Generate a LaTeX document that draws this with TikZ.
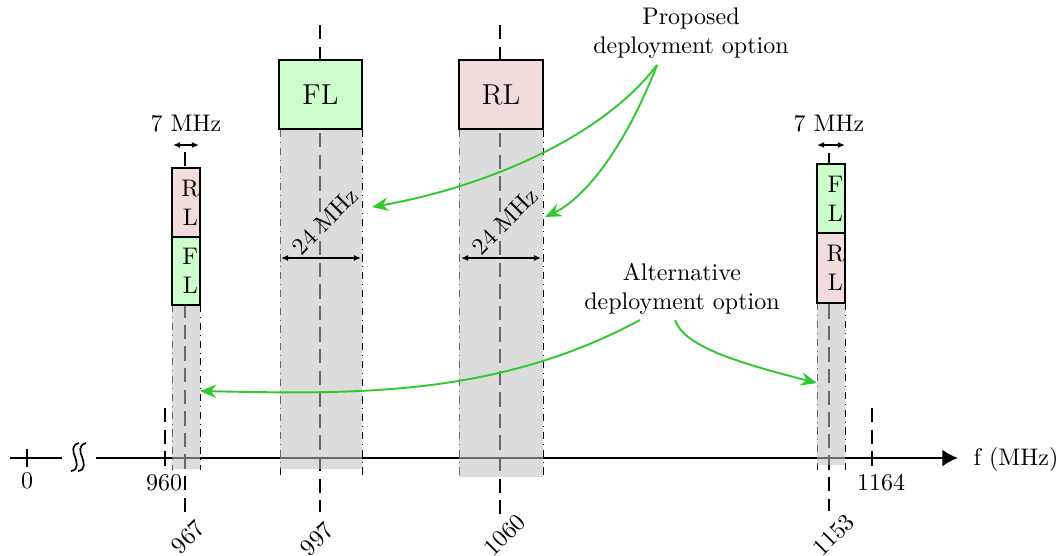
\documentclass[tikz,border=0pt]{standalone}
\usetikzlibrary{arrows.meta,fit}
\definecolor{flgreen}{RGB}{204,255,204}
\definecolor{rlpink}{RGB}{240,220,219}
\definecolor{ptgreen}{RGB}{50,200,50}
\begin{document}
\begin{tikzpicture}[x=0.4167pt,y=-0.4167pt,
  axisline/.style={line width=0.8pt},
  centerline/.style={line width=0.6pt, dash pattern=on 6pt off 3pt},
  bandedge/.style={line width=0.4pt, dash pattern=on 3pt off 2pt on 0.4pt off 2pt},
  bandfill/.style={fill=black!25, fill opacity=0.55},
  boxfl/.style={draw, line width=0.8pt, fill=flgreen, inner sep=0pt},
  boxrl/.style={draw, line width=0.8pt, fill=rlpink, inner sep=0pt},
  spanarrow/.style={line width=0.6pt, {Latex[length=3pt,width=2.6pt]}-{Latex[length=3pt,width=2.6pt]}},
  pointer/.style={draw=ptgreen, line width=0.8pt, -{Stealth[length=6.8pt,width=5.6pt]}},
  freq/.style={rotate=45, inner sep=1pt},
  note/.style={align=center}]
\useasboundingbox (0,0) rectangle (1062,555);

% frequency axis with a break near the origin
\coordinate (a0) at (10,458);
\coordinate (a1) at (62,458);
\coordinate (a2) at (96,458);
\coordinate (a3) at (958,458);
\draw[axisline] (a0) -- (a1);
\draw[axisline, -{Latex[length=6.5pt,width=7pt]}] (a2) -- (a3);
\node (funit) at (1016,459) {f (MHz)};
\foreach \x in {75,82}
  \draw[line width=0.7pt] (\x+4,443) .. controls (\x-4,445) and (\x-2,452) .. (\x,457)
                          .. controls (\x+2,462) and (\x+4,470) .. (\x-4,471);

% origin tick and band limits
\draw[line width=0.6pt] (27,449) -- (27,467);
\node (l0) at (27,481) {0};
\draw[centerline] (165,408) -- (165,466);
\node (l960) at (164,483) {960};
\draw[centerline] (872,408) -- (872,466);
\node (l1164) at (881,483) {1164};

% carrier centre lines
\draw[centerline] (185,152) -- (185,515);
\draw[centerline] (320,25) -- (320,512);
\draw[centerline] (500,25) -- (500,514);
\draw[centerline] (829,153) -- (829,511);

% channel edges
\foreach \x in {172,200} \draw[bandedge] (\x,305) -- (\x,470);
\foreach \x in {280,362} \draw[bandedge] (\x,130) -- (\x,475);
\foreach \x in {459,543} \draw[bandedge] (\x,130) -- (\x,477);
\foreach \x in {817,845} \draw[bandedge] (\x,303) -- (\x,470);

% occupied bandwidth
\fill[bandfill] (172,305) rectangle (200,469);
\fill[bandfill] (280,129) rectangle (362,469);
\fill[bandfill] (459,129) rectangle (543,477);
\fill[bandfill] (817,303) rectangle (845,465);

% link blocks
\node[boxfl, fit={(279,60) (362,129)}, label={center:\large FL}] (fl997) {};
\node[boxrl, fit={(459,60) (543,129)}, label={center:\large RL}] (rl1060) {};
\node[boxrl, fit={(172,168) (200,237)}, label={[align=center,xshift=1.8pt]center:R\\L}] (rl967) {};
\node[boxfl, fit={(172,237) (200,305)}, label={[align=center,xshift=1.8pt]center:F\\L}] (fl967) {};
\node[boxfl, fit={(817,164) (845,233)}, label={[align=center,xshift=1.8pt]center:F\\L}] (fl1153) {};
\node[boxrl, fit={(817,233) (845,303)}, label={[align=center,xshift=1.8pt]center:R\\L}] (rl1153) {};

% bandwidth markers
\coordinate (w1a) at (173,145); \coordinate (w1b) at (199,145);
\draw[spanarrow] (w1a) -- (w1b);
\node (bw967) at (186,124) {7 MHz};
\coordinate (w2a) at (817,145); \coordinate (w2b) at (845,145);
\draw[spanarrow] (w2a) -- (w2b);
\node (bw1153) at (829,124) {7 MHz};
\coordinate (w3a) at (281,258); \coordinate (w3b) at (361,258);
\draw[spanarrow] (w3a) -- (w3b);
\node[rotate=45] (bw997) at (325,221) {24 MHz};
\coordinate (w4a) at (461,258); \coordinate (w4b) at (541,258);
\draw[spanarrow] (w4a) -- (w4b);
\node[rotate=45] (bw1060) at (505,221) {24 MHz};

% centre frequencies
\node[freq] (f967) at (188,537) {967};
\node[freq] (f997) at (317,539) {997};
\node[freq] (f1060) at (505,535) {1060};
\node[freq] (f1153) at (834,535) {1153};

% deployment annotations
\node[note] (prop) at (691,33) {Proposed\\deployment option};
\node[note] (alt) at (682,289) {Alternative\\deployment option};
\coordinate (ps) at (657,65);
\coordinate (as1) at (640,320);
\coordinate (as2) at (675,320);
\coordinate (t997) at (372,207);
\coordinate (t1060) at (545,217);
\coordinate (t967) at (200,391);
\coordinate (t1153) at (817,383);
\draw[pointer] (ps) .. controls (600,140) and (480,188) .. (t997);
\draw[pointer] (ps) .. controls (622,155) and (581,200) .. (t1060);
\draw[pointer] (as1) .. controls (495,398) and (350,394) .. (t967);
\draw[pointer] (as2) .. controls (684,346) and (735,362) .. (t1153);
\end{tikzpicture}
\end{document}
